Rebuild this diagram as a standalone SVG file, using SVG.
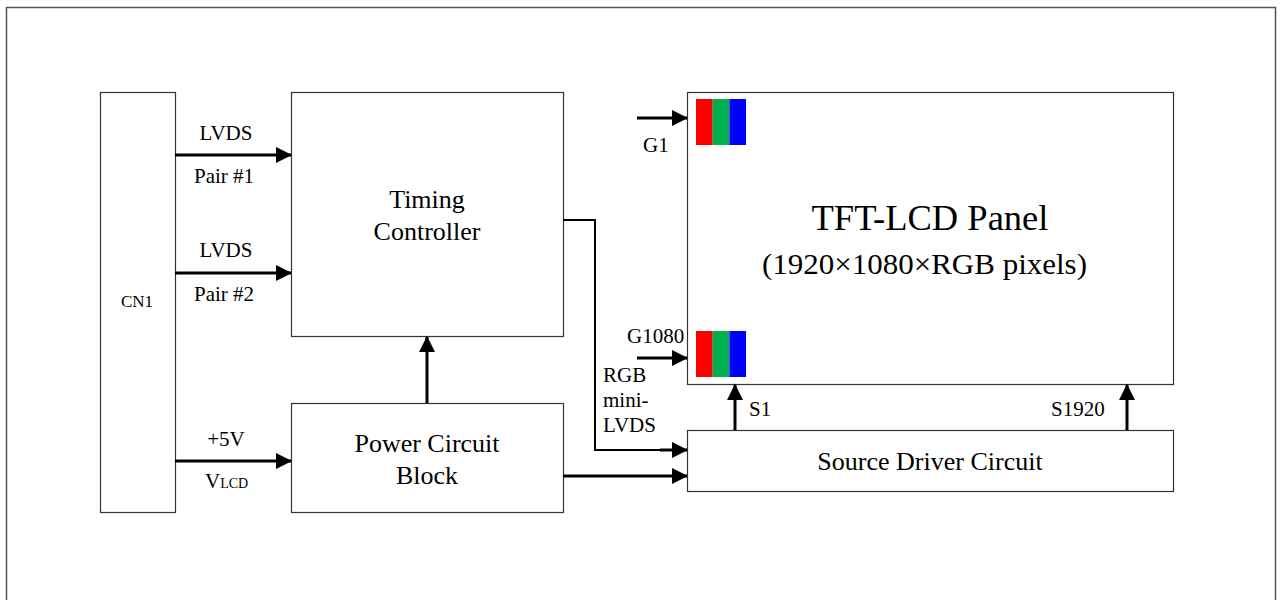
<svg xmlns="http://www.w3.org/2000/svg" width="1280" height="600" viewBox="0 0 1280 600">
<style>
.box{fill:#fff;stroke:#333;stroke-width:1.2}
.w{fill:none;stroke:#000;stroke-width:3}
text{fill:#000}
.l{font-size:21px}
</style>
<defs>
<marker id="a" markerWidth="16" markerHeight="16" refX="15" refY="8" orient="auto" markerUnits="userSpaceOnUse" viewBox="0 0 16 16">
<path d="M0,0 L16,8 L0,16 z" fill="#000"/>
</marker>
</defs>
<rect width="1280" height="600" fill="#fff"/>
<path d="M6.5,610 V7.5 H1275.5 V610" fill="none" stroke="#555" stroke-width="1.5"/>
<g font-family="Liberation Serif, Times New Roman, serif">
<g id="cn1"><rect class="box" x="100.5" y="92.5" width="75" height="420"/><text x="137" y="307" font-size="17" text-anchor="middle">CN1</text></g>
<g id="timing"><rect class="box" x="291.5" y="92.5" width="272" height="244"/><text x="427" y="208" font-size="26" text-anchor="middle">Timing</text><text x="427" y="240" font-size="26" text-anchor="middle">Controller</text></g>
<g id="power"><rect class="box" x="291.5" y="403.5" width="272" height="109"/><text x="427" y="452" font-size="26" text-anchor="middle">Power Circuit</text><text x="427" y="484" font-size="26" text-anchor="middle">Block</text></g>
<g id="panel"><rect class="box" x="687.5" y="92.5" width="486" height="292"/>
<rect x="696" y="99" width="16.7" height="46" fill="#ff0000"/><rect x="712.7" y="99" width="16.7" height="46" fill="#00b050"/><rect x="729.4" y="99" width="16.6" height="46" fill="#0000ff"/>
<rect x="696" y="331" width="16.7" height="46" fill="#ff0000"/><rect x="712.7" y="331" width="16.7" height="46" fill="#00b050"/><rect x="729.4" y="331" width="16.6" height="46" fill="#0000ff"/>
<text x="930" y="230" font-size="36.5" text-anchor="middle">TFT-LCD Panel</text><text x="924.5" y="274" font-size="29" text-anchor="middle" textLength="325" lengthAdjust="spacingAndGlyphs">(1920×1080×RGB pixels)</text></g>
<g id="source"><rect class="box" x="687.5" y="430.5" width="486" height="61"/><text x="930" y="470" font-size="26" text-anchor="middle">Source Driver Circuit</text></g>
<g id="connectors">
<path class="w" d="M175,155 H291" marker-end="url(#a)"/>
<path class="w" d="M175,273 H291" marker-end="url(#a)"/>
<path class="w" d="M175,461 H291" marker-end="url(#a)"/>
<path class="w" d="M427,403 V337" marker-end="url(#a)"/>
<path d="M563,220 H595 V450 H672" fill="none" stroke="#000" stroke-width="2"/>
<path class="w" d="M660,450 H687" marker-end="url(#a)"/>
<path class="w" d="M563,476 H687" marker-end="url(#a)"/>
<path class="w" d="M637,118 H687" marker-end="url(#a)"/>
<path class="w" d="M637,358 H687" marker-end="url(#a)"/>
<path class="w" d="M735,430 V385" marker-end="url(#a)"/>
<path class="w" d="M1127,430 V385" marker-end="url(#a)"/>
</g>
<g id="labels">
<text class="l" x="226" y="140" text-anchor="middle">LVDS</text>
<text class="l" x="224" y="183" text-anchor="middle">Pair #1</text>
<text class="l" x="226" y="257" text-anchor="middle">LVDS</text>
<text class="l" x="224" y="301" text-anchor="middle">Pair #2</text>
<text class="l" x="226" y="446" text-anchor="middle">+5V</text>
<text class="l" x="205" y="488">V<tspan font-size="14">LCD</tspan></text>
<text class="l" x="643" y="152">G1</text>
<text class="l" x="627" y="343">G1080</text>
<text class="l" x="603" y="382">RGB</text>
<text class="l" x="603" y="407">mini-</text>
<text class="l" x="603" y="432">LVDS</text>
<text class="l" x="749" y="416">S1</text>
<text class="l" x="1051" y="416">S1920</text>
</g>
</g>
</svg>
